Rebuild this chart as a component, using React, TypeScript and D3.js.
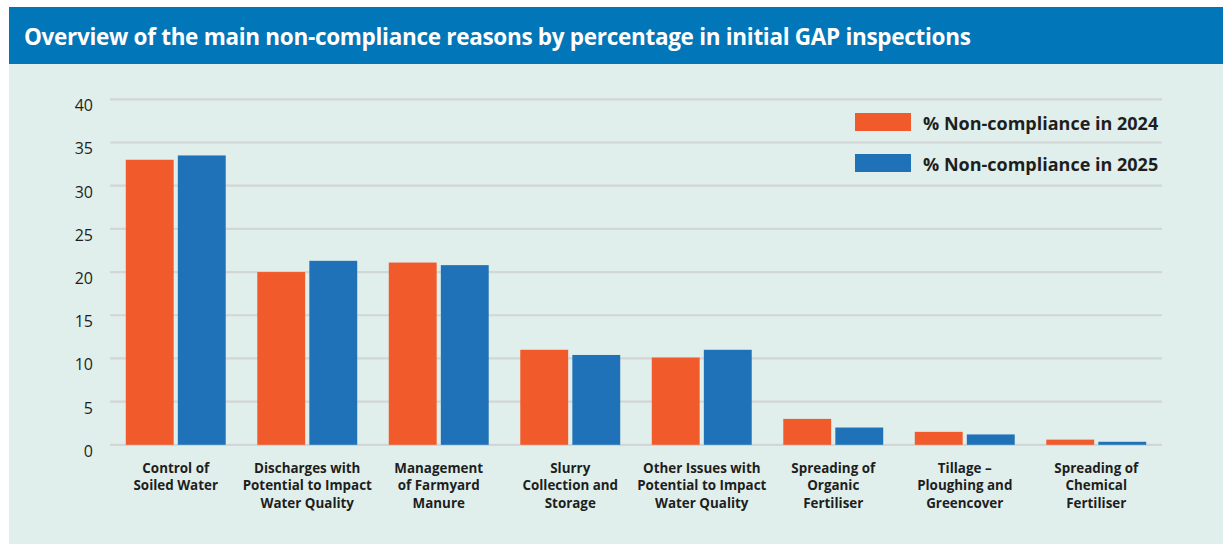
import React from "react";
import * as d3 from "d3";

const categories: string[][] = [
  ["Control of", "Soiled Water"],
  ["Discharges with", "Potential to Impact", "Water Quality"],
  ["Management", "of Farmyard", "Manure"],
  ["Slurry", "Collection and", "Storage"],
  ["Other Issues with", "Potential to Impact", "Water Quality"],
  ["Spreading of", "Organic", "Fertiliser"],
  ["Tillage –", "Ploughing and", "Greencover"],
  ["Spreading of", "Chemical", "Fertiliser"],
];
const values2024: number[] = [33.0, 20.0, 21.1, 11.0, 10.1, 3.0, 1.5, 0.6];
const values2025: number[] = [33.5, 21.3, 20.8, 10.4, 11.0, 2.0, 1.2, 0.35];
const yTicks: number[] = [0, 5, 10, 15, 20, 25, 30, 35, 40];
const seriesNames: string[] = ["% Non-compliance in 2024", "% Non-compliance in 2025"];
const title = "Overview of the main non-compliance reasons by percentage in initial GAP inspections";

const W = 1223;
const H = 545;
const COLORS = ["#f15a2b", "#1f72b8"];
const FONT = "'Open Sans', 'Noto Sans', sans-serif";

export default function App() {
  const plotLeft = 110;
  const plotRight = 1162;
  const y = d3.scaleLinear().domain([0, 40]).range([444.8, 99.3]);
  const x0 = d3
    .scaleBand<number>()
    .domain(categories.map((_, i) => i))
    .range([plotLeft, plotRight])
    .paddingInner(0.24)
    .paddingOuter(0.12);
  const x1 = d3.scaleBand<number>().domain([0, 1]).range([0, x0.bandwidth()]).paddingInner(0.08);
  const series = [values2024, values2025];

  return (
    <svg
      width={W}
      height={H}
      style={{ position: "absolute", left: 0, top: 0, background: "#ffffff" }}
      fontFamily={FONT}
    >
      <rect x={9} y={7} width={W - 9} height={57} fill="#0176b8" />
      <rect x={9} y={64} width={W - 9} height={H - 64 - 1} fill="#e0efeb" />
      <text x={24} y={45} fill="#ffffff" fontSize={22.5} fontWeight={700} letterSpacing={-0.3}>
        {title}
      </text>

      {yTicks.map((t) => (
        <g key={t}>
          <line x1={plotLeft} x2={plotRight} y1={y(t)} y2={y(t)} stroke="#d2d6d6" strokeWidth={2.2} />
          <text x={93} y={y(t) + 12} textAnchor="end" fontSize={16} fill="#1e1e1e">
            {t}
          </text>
        </g>
      ))}

      {series.map((vals, s) =>
        vals.map((v, i) => (
          <rect
            key={`${s}-${i}`}
            x={(x0(i) as number) + (x1(s) as number)}
            y={y(v)}
            width={x1.bandwidth()}
            height={y(0) - y(v)}
            fill={COLORS[s]}
          />
        ))
      )}

      {categories.map((lines, i) => (
        <text
          key={i}
          x={(x0(i) as number) + x0.bandwidth() / 2}
          textAnchor="middle"
          fontSize={13.4}
          fontWeight={700}
          fill="#1e1e1e"
        >
          {lines.map((l, j) => (
            <tspan key={j} x={(x0(i) as number) + x0.bandwidth() / 2} y={473 + j * 17.4}>
              {l}
            </tspan>
          ))}
        </text>
      ))}

      {seriesNames.map((n, s) => (
        <g key={n}>
          <rect x={855} y={113 + s * 41} width={56} height={18} fill={COLORS[s]} />
          <text x={923} y={129.5 + s * 41} fontSize={18} fontWeight={700} fill="#1e1e1e">
            {n}
          </text>
        </g>
      ))}
    </svg>
  );
}
